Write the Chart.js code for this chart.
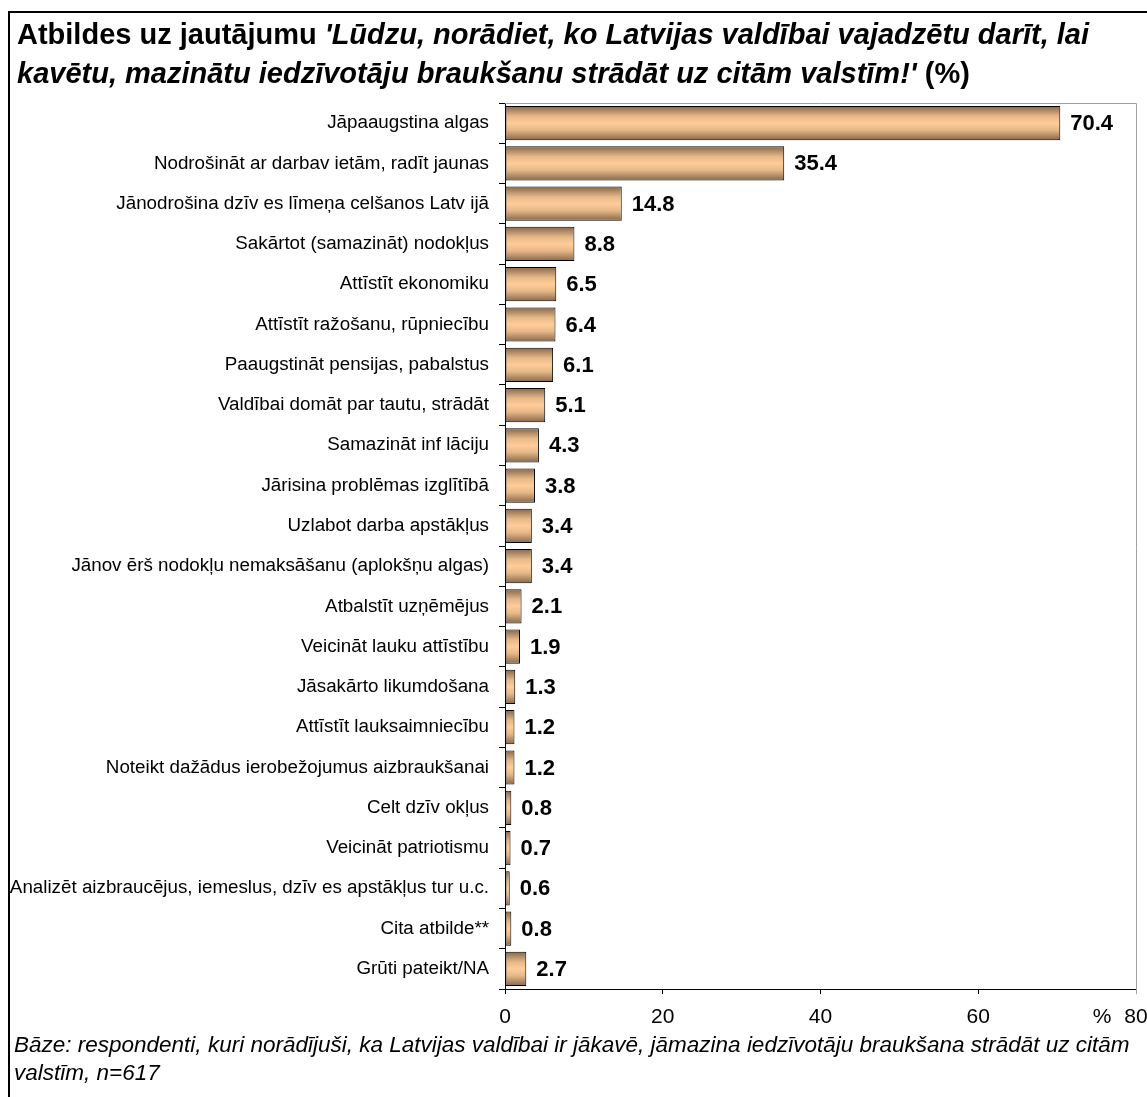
<!DOCTYPE html>
<html>
<head>
<meta charset="utf-8">
<script src="https://cdn.jsdelivr.net/npm/chart.js@4.4.1/dist/chart.umd.min.js"></script>
<style>
  html, body { margin: 0; padding: 0; background: #fff; }
  #wrap { position: absolute; left: 0; top: 0; width: 1147px; height: 1097px; }
</style>
</head>
<body>
<div id="wrap"><canvas id="chart1"></canvas></div>
<script>
// answers (categories) and the share of respondents, %
const answers = [
    'Jāpaaugstina algas',
    'Nodrošināt ar darbav ietām, radīt jaunas',
    'Jānodrošina dzīv es līmeņa celšanos Latv ijā',
    'Sakārtot (samazināt) nodokļus',
    'Attīstīt ekonomiku',
    'Attīstīt ražošanu, rūpniecību',
    'Paaugstināt pensijas, pabalstus',
    'Valdībai domāt par tautu, strādāt',
    'Samazināt inf lāciju',
    'Jārisina problēmas izglītībā',
    'Uzlabot darba apstākļus',
    'Jānov ērš nodokļu nemaksāšanu (aplokšņu algas)',
    'Atbalstīt uzņēmējus',
    'Veicināt lauku attīstību',
    'Jāsakārto likumdošana',
    'Attīstīt lauksaimniecību',
    'Noteikt dažādus ierobežojumus aizbraukšanai',
    'Celt dzīv okļus',
    'Veicināt patriotismu',
    'Analizēt aizbraucējus, iemeslus, dzīv es apstākļus tur u.c.',
    'Cita atbilde**',
    'Grūti pateikt/NA'
];
const shares = [70.4, 35.4, 14.8, 8.8, 6.5, 6.4, 6.1, 5.1, 4.3, 3.8, 3.4, 3.4, 2.1, 1.9, 1.3, 1.2, 1.2, 0.8, 0.7, 0.6, 0.8, 2.7];
const xTicks = [0, 20, 40, 60, 80];

const titleLine1 = [['bold', 'Atbildes uz jautājumu '], ['italic bold', "'Lūdzu, norādiet, ko Latvijas valdībai vajadzētu darīt, lai"]];
const titleLine2 = [['italic bold', "kavētu, mazinātu iedzīvotāju braukšanu strādāt uz citām valstīm!'"], ['bold', ' (%)']];
const footLines = ['Bāze: respondenti, kuri norādījuši, ka Latvijas valdībai ir jākavē, jāmazina iedzīvotāju braukšana strādāt uz citām',
                   'valstīm, n=617'];

const FONT = 'Arial, "Liberation Sans", sans-serif';

// bar fill: dark edges, light peach middle
function barFill(ctx) {
    const chart = ctx.chart;
    if (!chart.chartArea || ctx.dataIndex === undefined) return '#f5c490';
    const el = chart.getDatasetMeta(0).data[ctx.dataIndex];
    if (!el || !el.height) return '#f5c490';
    const top = el.y - el.height / 2, bot = el.y + el.height / 2;
    const g = chart.ctx.createLinearGradient(0, top, 0, bot);
    g.addColorStop(0, '#86664a');
    g.addColorStop(0.3, '#e6b888');
    g.addColorStop(0.5, '#ffcc99');
    g.addColorStop(0.7, '#e6b888');
    g.addColorStop(1, '#86664a');
    return g;
}

function drawRuns(c, runs, x, y, size) {
    runs.forEach(r => {
        c.font = r[0] + ' ' + size + 'px ' + FONT;
        c.fillText(r[1], x, y);
        x += c.measureText(r[1]).width;
    });
}

const decorPlugin = {
    id: 'decor',
    beforeDatasetsDraw(chart) {
        // refresh gradients once the bars have their final positions
        const meta = chart.getDatasetMeta(0);
        meta.data.forEach((el, i) => {
            el.options.backgroundColor = barFill({chart: chart, dataIndex: i});
        });
    },
    afterDraw(chart) {
        const c = chart.ctx, a = chart.chartArea;
        c.save();
        // plot area border (light grey, top and right)
        c.strokeStyle = '#a0a0a0';
        c.lineWidth = 1;
        c.beginPath();
        c.moveTo(a.left, a.top + 0.5);
        c.lineTo(a.right + 0.5, a.top + 0.5);
        c.lineTo(a.right + 0.5, a.bottom + 5);
        c.stroke();
        // outer frame
        c.strokeStyle = '#000';
        c.lineWidth = 2;
        c.beginPath();
        c.moveTo(9, 1097);
        c.lineTo(9, 12);
        c.lineTo(1147, 12);
        c.stroke();
        // title
        c.fillStyle = '#000';
        c.textBaseline = 'alphabetic';
        c.textAlign = 'left';
        drawRuns(c, titleLine1, 17, 44, 29);
        drawRuns(c, titleLine2, 17, 83, 29);
        // footnote
        c.font = 'italic 22.5px ' + FONT;
        c.fillText(footLines[0], 14, 1052);
        c.fillText(footLines[1], 14, 1080);
        // value labels
        c.font = 'bold 22px ' + FONT;
        c.textBaseline = 'middle';
        const meta = chart.getDatasetMeta(0);
        meta.data.forEach((el, i) => {
            c.fillText(shares[i].toFixed(1), el.x + 10, el.y + 1);
        });
        // unit next to the last tick
        c.font = '21px ' + FONT;
        c.textAlign = 'center';
        c.fillText('%', 1102, 1017);
        c.restore();
    }
};

document.addEventListener('DOMContentLoaded', function() {
    const ctx1 = document.getElementById('chart1').getContext('2d');
    new Chart(ctx1, {
        type: 'bar',
        data: {
            labels: answers,
            datasets: [{
                data: shares,
                backgroundColor: barFill,
                borderColor: '#000',
                borderWidth: 1,
                borderSkipped: false,
                barPercentage: 0.85,
                categoryPercentage: 1.0
            }]
        },
        options: {
            indexAxis: 'y',
            responsive: true,
            maintainAspectRatio: false,
            animation: false,
            layout: { padding: { top: 103, right: 0, bottom: 0, left: 0 } },
            plugins: {
                legend: { display: false },
                tooltip: { enabled: false }
            },
            scales: {
                x: {
                    min: 0,
                    max: 80,
                    afterBuildTicks: s => { s.ticks = xTicks.map(v => ({ value: v })); },
                    afterFit: s => {
                        s.height = 1097 - 989;
                        s.paddingLeft = 0;
                        s.paddingRight = 11;
                    },
                    grid: { drawOnChartArea: false, color: '#000', tickLength: 5 },
                    border: { display: true, color: '#000', width: 1 },
                    ticks: {
                        color: '#000',
                        padding: 11,
                        font: { family: FONT, size: 21 },
                        maxRotation: 0
                    }
                },
                y: {
                    afterFit: s => { s.width = 505; },
                    grid: { drawOnChartArea: false, color: '#000', tickLength: 6, offset: true },
                    border: { display: true, color: '#000', width: 1 },
                    ticks: {
                        color: '#000',
                        padding: 10,
                        font: { family: FONT, size: 18.8 },
                        autoSkip: false
                    }
                }
            }
        },
        plugins: [decorPlugin]
    });
});
</script>
</body>
</html>
